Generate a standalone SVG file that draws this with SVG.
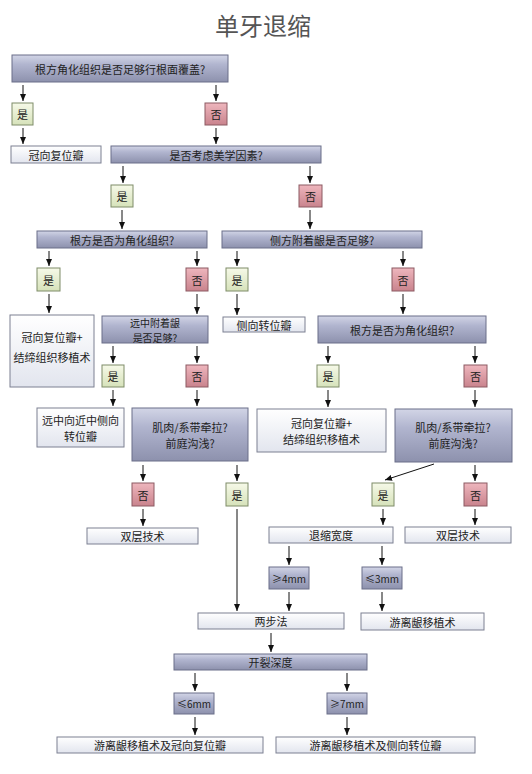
<svg xmlns="http://www.w3.org/2000/svg" width="532" height="774" viewBox="0 0 532 774">
<defs>
<linearGradient id="gg" x1="0" y1="0" x2="0" y2="1"><stop offset="0" stop-color="#d2d5e6"/><stop offset="0.35" stop-color="#b1b5cf"/><stop offset="1" stop-color="#8d91ad"/></linearGradient>
<linearGradient id="gw" x1="0" y1="0" x2="0" y2="1"><stop offset="0" stop-color="#ffffff"/><stop offset="1" stop-color="#e2e5ee"/></linearGradient>
<linearGradient id="gy" x1="0" y1="0" x2="0" y2="1"><stop offset="0" stop-color="#f6f9e8"/><stop offset="1" stop-color="#d6e2ba"/></linearGradient>
<linearGradient id="gn" x1="0" y1="0" x2="0" y2="1"><stop offset="0" stop-color="#eeb6bd"/><stop offset="1" stop-color="#c9838d"/></linearGradient>
<marker id="ah" markerUnits="userSpaceOnUse" markerWidth="7" markerHeight="6" refX="7" refY="3" orient="auto"><path d="M0,0 L7,3 L0,6 z" fill="#111"/></marker>
<style>
text{font-family:"Noto Sans CJK SC","Noto Sans",sans-serif;font-size:11px;fill:#222;text-anchor:middle;dominant-baseline:central}
.title{font-size:24px;fill:#555}
.sm{font-size:10px}
.g{fill:url(#gg);stroke:#6b6f89;stroke-width:1}
.w{fill:url(#gw);stroke:#7c8092;stroke-width:1}
.y{fill:url(#gy);stroke:#7e8c68;stroke-width:1}
.n{fill:url(#gn);stroke:#8c5a62;stroke-width:1}
.c line{stroke:#111;stroke-width:1;marker-end:url(#ah)}
</style>
</defs>
<rect width="532" height="774" fill="#ffffff"/>
<text class="title" x="263" y="24">单牙退缩</text>

<g id="n1"><rect class="g" x="12" y="55" width="216" height="27"/><text x="120" y="69">根方角化组织是否足够行根面覆盖?</text></g>
<g id="y1"><rect class="y" x="12" y="103" width="21" height="22"/><text x="22.5" y="114">是</text></g>
<g id="no1"><rect class="n" x="205" y="103" width="22" height="22"/><text x="216" y="114">否</text></g>
<g id="crown"><rect class="w" x="11" y="146" width="90" height="17"/><text x="56" y="154.5">冠向复位瓣</text></g>
<g id="aesthetic"><rect class="g" x="111" y="146" width="210" height="17"/><text x="216" y="154.5">是否考虑美学因素?</text></g>
<g id="y2"><rect class="y" x="111" y="185" width="22" height="22"/><text x="122" y="196">是</text></g>
<g id="no2"><rect class="n" x="299" y="185" width="23" height="22"/><text x="310.5" y="196">否</text></g>
<g id="root1"><rect class="g" x="37" y="231" width="170" height="17"/><text x="122" y="239.5">根方是否为角化组织?</text></g>
<g id="lateral"><rect class="g" x="222" y="231" width="200" height="17"/><text x="322" y="239.5">侧方附着龈是否足够?</text></g>
<g id="y3"><rect class="y" x="37" y="268" width="23" height="23"/><text x="48.5" y="279.5">是</text></g>
<g id="no3"><rect class="n" x="186" y="268" width="22" height="23"/><text x="197" y="279.5">否</text></g>
<g id="y4"><rect class="y" x="226" y="268" width="22" height="23"/><text x="237" y="279.5">是</text></g>
<g id="no4"><rect class="n" x="392" y="268" width="22" height="23"/><text x="403" y="279.5">否</text></g>
<g id="ctg1"><rect class="w" x="10" y="315" width="84" height="72"/><text x="52" y="337">冠向复位瓣+</text><text x="52" y="357">结缔组织移植术</text></g>
<g id="distal"><rect class="g" x="102" y="316" width="106" height="27"/><text class="sm" x="155" y="322">远中附着龈</text><text class="sm" x="155" y="337">是否足够?</text></g>
<g id="latflap"><rect class="w" x="223" y="317" width="82" height="15"/><text x="264" y="324.5">侧向转位瓣</text></g>
<g id="root2"><rect class="g" x="318" y="316" width="168" height="27"/><text x="402" y="329.5">根方是否为角化组织?</text></g>
<g id="y5"><rect class="y" x="102" y="365" width="22" height="22"/><text x="113" y="376">是</text></g>
<g id="no5"><rect class="n" x="186" y="365" width="22" height="22"/><text x="197" y="376">否</text></g>
<g id="y6"><rect class="y" x="317" y="365" width="22" height="22"/><text x="328" y="376">是</text></g>
<g id="no6"><rect class="n" x="464" y="365" width="23" height="22"/><text x="475.5" y="376">否</text></g>
<g id="distmes"><rect class="w" x="37" y="408" width="87" height="39"/><text x="80.5" y="420">远中向近中侧向</text><text x="80.5" y="436">转位瓣</text></g>
<g id="muscle1"><rect class="g" x="132" y="408" width="116" height="53"/><text x="190" y="427">肌肉/系带牵拉?</text><text x="190" y="443">前庭沟浅?</text></g>
<g id="ctg2"><rect class="w" x="257" y="409" width="129" height="43"/><text x="321.5" y="423">冠向复位瓣+</text><text x="321.5" y="439">结缔组织移植术</text></g>
<g id="muscle2"><rect class="g" x="395" y="409" width="117" height="53"/><text x="453" y="427">肌肉/系带牵拉?</text><text x="453" y="443">前庭沟浅?</text></g>
<g id="no7"><rect class="n" x="132" y="483" width="22" height="23"/><text x="143" y="494.5">否</text></g>
<g id="y7"><rect class="y" x="226" y="483" width="22" height="23"/><text x="237" y="494.5">是</text></g>
<g id="y8"><rect class="y" x="372" y="483" width="22" height="23"/><text x="383" y="494.5">是</text></g>
<g id="no8"><rect class="n" x="464" y="483" width="23" height="23"/><text x="475.5" y="494.5">否</text></g>
<g id="double1"><rect class="w" x="87" y="528" width="111" height="16"/><text x="142.5" y="536">双层技术</text></g>
<g id="recwidth"><rect class="w" x="269" y="527" width="124" height="16"/><text x="331" y="535">退缩宽度</text></g>
<g id="double2"><rect class="w" x="405" y="527" width="106" height="16"/><text x="458" y="535">双层技术</text></g>
<g id="ge4"><rect class="g" x="269" y="567" width="40" height="22"/><text class="sm" x="289" y="578">≥4mm</text></g>
<g id="le3"><rect class="g" x="362" y="567" width="40" height="22"/><text class="sm" x="382" y="578">≤3mm</text></g>
<g id="twostep"><rect class="w" x="198" y="613" width="146" height="16"/><text x="271" y="621">两步法</text></g>
<g id="fgg"><rect class="w" x="361" y="613" width="123" height="17"/><text x="422.5" y="621.5">游离龈移植术</text></g>
<g id="depth"><rect class="g" x="174" y="654" width="193" height="16"/><text x="270.5" y="662">开裂深度</text></g>
<g id="le6"><rect class="g" x="174" y="693" width="40" height="21"/><text class="sm" x="194" y="703.5">≤6mm</text></g>
<g id="ge7"><rect class="g" x="327" y="693" width="40" height="21"/><text class="sm" x="347" y="703.5">≥7mm</text></g>
<g id="fggcrown"><rect class="w" x="57" y="737" width="206" height="16"/><text x="160" y="745">游离龈移植术及冠向复位瓣</text></g>
<g id="fgglat"><rect class="w" x="276" y="737" width="199" height="16"/><text x="375.5" y="745">游离龈移植术及侧向转位瓣</text></g>

<g id="connectors" class="c">
<line x1="23" y1="85" x2="23" y2="101"/>
<line x1="216" y1="85" x2="216" y2="101"/>
<line x1="23" y1="128" x2="23" y2="144"/>
<line x1="216" y1="128" x2="216" y2="144"/>
<line x1="123" y1="166" x2="123" y2="183"/>
<line x1="310" y1="166" x2="310" y2="183"/>
<line x1="122" y1="210" x2="122" y2="229"/>
<line x1="310" y1="210" x2="310" y2="229"/>
<line x1="49" y1="251" x2="49" y2="266"/>
<line x1="197" y1="251" x2="197" y2="266"/>
<line x1="237" y1="251" x2="237" y2="266"/>
<line x1="403" y1="251" x2="403" y2="266"/>
<line x1="49" y1="294" x2="49" y2="313"/>
<line x1="197" y1="294" x2="197" y2="314"/>
<line x1="237" y1="294" x2="237" y2="315"/>
<line x1="403" y1="294" x2="403" y2="314"/>
<line x1="113" y1="346" x2="113" y2="363"/>
<line x1="197" y1="346" x2="197" y2="363"/>
<line x1="328" y1="346" x2="328" y2="363"/>
<line x1="475" y1="346" x2="475" y2="363"/>
<line x1="113" y1="390" x2="113" y2="406"/>
<line x1="197" y1="390" x2="197" y2="406"/>
<line x1="328" y1="390" x2="328" y2="407"/>
<line x1="475" y1="390" x2="475" y2="407"/>
<line x1="143" y1="465" x2="143" y2="481"/>
<line x1="237" y1="465" x2="237" y2="481"/>
<line x1="434" y1="464" x2="385" y2="480"/>
<line x1="475" y1="465" x2="475" y2="481"/>
<line x1="143" y1="509" x2="143" y2="526"/>
<line x1="237" y1="509" x2="237" y2="611"/>
<line x1="383" y1="509" x2="383" y2="525"/>
<line x1="475" y1="509" x2="475" y2="525"/>
<line x1="289" y1="546" x2="289" y2="565"/>
<line x1="382" y1="546" x2="382" y2="565"/>
<line x1="289" y1="592" x2="289" y2="611"/>
<line x1="382" y1="592" x2="382" y2="611"/>
<line x1="271" y1="633" x2="271" y2="652"/>
<line x1="195" y1="673" x2="195" y2="691"/>
<line x1="347" y1="673" x2="347" y2="691"/>
<line x1="195" y1="717" x2="195" y2="735"/>
<line x1="347" y1="717" x2="347" y2="735"/>
</g>
</svg>
